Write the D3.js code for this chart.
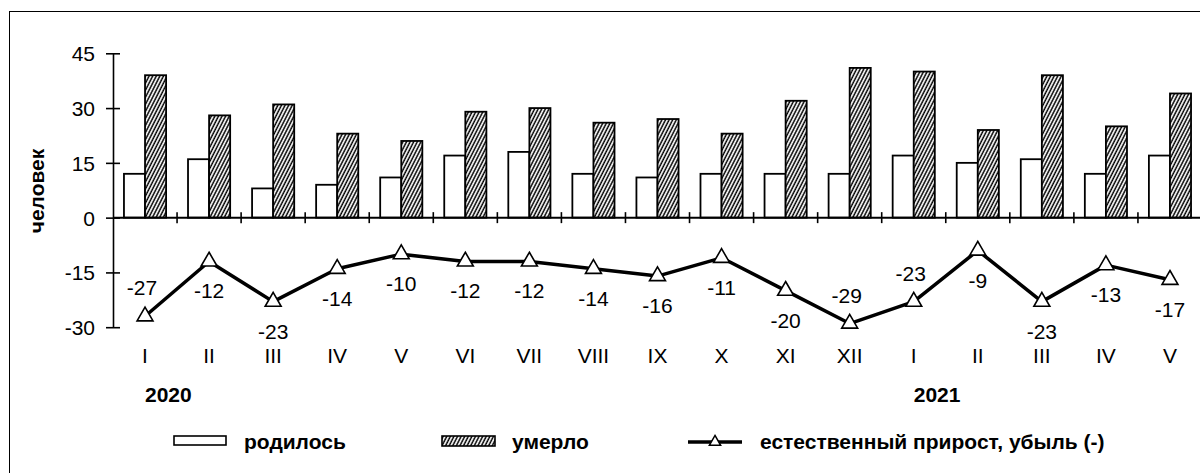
<!DOCTYPE html>
<html>
<head>
<meta charset="utf-8">
<script src="https://cdn.jsdelivr.net/npm/d3@7"></script>
<style>
    body { margin: 0; background: #fff; }
    text { font-family: "Liberation Sans", Arial, sans-serif; fill: #000; }
</style>
</head>
<body>
<div class="chart-wrapper"></div>
<script>
// month labels (2020: I..XII, 2021: I..V)
const months = ["I", "II", "III", "IV", "V", "VI", "VII", "VIII", "IX", "X", "XI", "XII",
    "I", "II", "III", "IV", "V"];
const births = [12, 16, 8, 9, 11, 17, 18, 12, 11, 12, 12, 12, 17, 15, 16, 12, 17];
const deaths = [39, 28, 31, 23, 21, 29, 30, 26, 27, 23, 32, 41, 40, 24, 39, 25, 34];
const increase = [-27, -12, -23, -14, -10, -12, -12, -14, -16, -11, -20, -29, -23, -9, -23, -13, -17];
const yearLabels = ["2020", "2021"];
const yearStart = [0, 12];
const yTicks = [-30, -15, 0, 15, 30, 45];
// where each data label of the line sits
const labelSide = ["above", "below", "below", "below", "below", "below", "below", "below", "below",
    "below", "below", "above", "above", "below", "below", "below", "below"];

const svgWidth = 1200;
const svgHeight = 473;
const plot = { left: 113, right: 1202, top: 53.3, bottom: 327.2 };

const svg = d3.select(".chart-wrapper")
    .append("svg")
    .attr("width", svgWidth)
    .attr("height", svgHeight);

// hatch pattern for deaths
const defs = svg.append("defs");
defs.append("pattern")
    .attr("id", "hatch")
    .attr("patternUnits", "userSpaceOnUse")
    .attr("width", 3.2)
    .attr("height", 10)
    .attr("patternTransform", "rotate(27)")
    .call(p => {
        p.append("rect").attr("width", 3.2).attr("height", 10).attr("fill", "#fff");
        p.append("line")
            .attr("x1", 1).attr("x2", 1)
            .attr("y1", 0).attr("y2", 10)
            .attr("stroke", "#000")
            .attr("stroke-width", 1.5);
    });

// outer frame (right and bottom edges fall outside the picture)
svg.append("rect")
    .attr("x", 9.5)
    .attr("y", 11.5)
    .attr("width", 1200)
    .attr("height", 480)
    .attr("fill", "none")
    .attr("stroke", "#000")
    .attr("stroke-width", 1);

// scales
const idx = d3.range(months.length);
const x0 = d3.scaleBand()
    .domain(idx)
    .range([plot.left, plot.right])
    .padding(0);

const x1 = d3.scaleBand()
    .domain(["births", "deaths"])
    .range([0, x0.bandwidth()])
    .paddingInner(0)
    .paddingOuter(0.52);

const y = d3.scaleLinear()
    .domain([-30, 45])
    .range([plot.bottom, plot.top]);

const cx = i => x0(i) + x0.bandwidth() / 2;

// births bars
svg.append("g")
    .selectAll("rect")
    .data(births)
    .enter()
    .append("rect")
    .attr("x", (d, i) => x0(i) + x1("births"))
    .attr("y", d => y(d))
    .attr("width", x1.bandwidth())
    .attr("height", d => y(0) - y(d))
    .attr("fill", "#fff")
    .attr("stroke", "#000")
    .attr("stroke-width", 1.8);

// deaths bars
svg.append("g")
    .selectAll("rect")
    .data(deaths)
    .enter()
    .append("rect")
    .attr("x", (d, i) => x0(i) + x1("deaths"))
    .attr("y", d => y(d))
    .attr("width", x1.bandwidth())
    .attr("height", d => y(0) - y(d))
    .attr("fill", "url(#hatch)")
    .attr("stroke", "#000")
    .attr("stroke-width", 1.8);

// y axis, ticks cross the line
const yAxis = d3.axisLeft(y)
    .tickValues(yTicks)
    .tickFormat(d => String(d))
    .tickSizeInner(7)
    .tickSizeOuter(0)
    .tickPadding(11);

const yg = svg.append("g")
    .attr("transform", `translate(${plot.left},0)`)
    .call(yAxis);
yg.select(".domain").attr("stroke", "#000").attr("stroke-width", 1.6);
yg.selectAll(".tick line").attr("x1", 7).attr("stroke", "#000").attr("stroke-width", 1.6);
yg.selectAll(".tick text")
    .attr("dy", "0.36em")
    .style("font-size", "21px")
    .style("font-family", "'Liberation Sans', Arial, sans-serif");

// zero line with category ticks
svg.append("line")
    .attr("x1", plot.left)
    .attr("x2", plot.right)
    .attr("y1", y(0))
    .attr("y2", y(0))
    .attr("stroke", "#000")
    .attr("stroke-width", 2);

svg.append("g")
    .selectAll("line")
    .data(idx.slice(1))
    .enter()
    .append("line")
    .attr("x1", d => x0(d))
    .attr("x2", d => x0(d))
    .attr("y1", y(0) - 5.5)
    .attr("y2", y(0) + 5.5)
    .attr("stroke", "#000")
    .attr("stroke-width", 1.6);

// month labels
svg.append("g")
    .selectAll("text")
    .data(months)
    .enter()
    .append("text")
    .attr("x", (d, i) => cx(i))
    .attr("y", 363)
    .attr("text-anchor", "middle")
    .style("font-size", "21px")
    .text(d => d);

// year labels
svg.append("g")
    .selectAll("text")
    .data(yearLabels)
    .enter()
    .append("text")
    .attr("x", (d, i) => cx(yearStart[i]))
    .attr("y", 402)
    .attr("text-anchor", "start")
    .style("font-size", "21px")
    .style("font-weight", "700")
    .text(d => d);

// natural increase line
const line = d3.line()
    .x((d, i) => cx(i))
    .y(d => y(d));

svg.append("path")
    .datum(increase)
    .attr("d", line)
    .attr("fill", "none")
    .attr("stroke", "#000")
    .attr("stroke-width", 3.5)
    .attr("stroke-linejoin", "round");

const tri = d3.symbol().type(d3.symbolTriangle).size(110);
svg.append("g")
    .selectAll("path")
    .data(increase)
    .enter()
    .append("path")
    .attr("d", tri)
    .attr("transform", (d, i) => `translate(${cx(i)},${y(d)})`)
    .attr("fill", "#fff")
    .attr("stroke", "#000")
    .attr("stroke-width", 1.6);

// data labels
svg.append("g")
    .selectAll("text")
    .data(increase)
    .enter()
    .append("text")
    .attr("x", (d, i) => cx(i) - (labelSide[i] === "above" ? 3 : 0))
    .attr("y", (d, i) => labelSide[i] === "above" ? y(d) - 21 : y(d) + 37)
    .attr("text-anchor", "middle")
    .style("font-size", "21px")
    .text(d => String(d));

// y axis title
svg.append("text")
    .attr("transform", "translate(44,191) rotate(-90)")
    .attr("text-anchor", "middle")
    .style("font-size", "21px")
    .style("font-weight", "700")
    .text("человек");

// legend
const legend = svg.append("g").attr("class", "legend");
legend.append("rect")
    .attr("x", 174).attr("y", 436)
    .attr("width", 52).attr("height", 9)
    .attr("fill", "#fff").attr("stroke", "#000").attr("stroke-width", 1.6);
legend.append("text")
    .attr("x", 244).attr("y", 449)
    .style("font-size", "21px").style("font-weight", "700")
    .text("родилось");

legend.append("rect")
    .attr("x", 442).attr("y", 436)
    .attr("width", 53).attr("height", 10)
    .attr("fill", "url(#hatch)").attr("stroke", "#000").attr("stroke-width", 1.6);
legend.append("text")
    .attr("x", 512).attr("y", 449)
    .style("font-size", "21px").style("font-weight", "700")
    .text("умерло");

legend.append("line")
    .attr("x1", 688).attr("x2", 742)
    .attr("y1", 442).attr("y2", 442)
    .attr("stroke", "#000").attr("stroke-width", 3.5);
legend.append("path")
    .attr("d", d3.symbol().type(d3.symbolTriangle).size(55))
    .attr("transform", "translate(715,442)")
    .attr("fill", "#fff").attr("stroke", "#000").attr("stroke-width", 1.5);
legend.append("text")
    .attr("x", 760).attr("y", 449)
    .style("font-size", "21px").style("font-weight", "700")
    .text("естественный прирост, убыль (-)");
</script>
</body>
</html>
